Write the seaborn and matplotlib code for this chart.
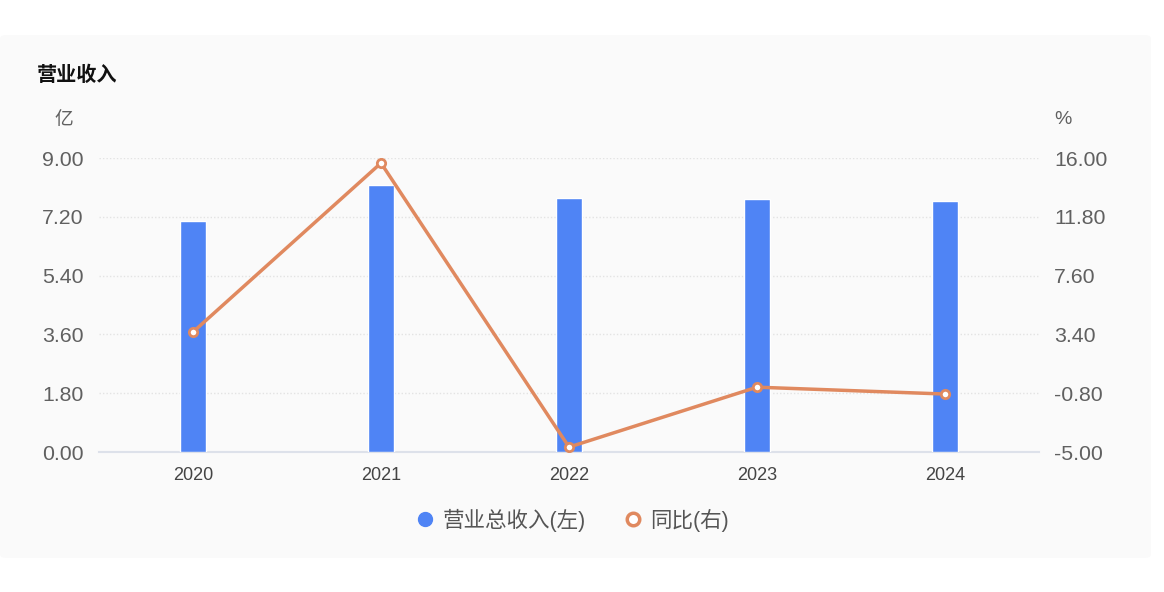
import numpy as np
import pandas as pd
import matplotlib
matplotlib.use("Agg")
import matplotlib.pyplot as plt
from matplotlib.lines import Line2D
from matplotlib.patches import FancyBboxPatch
import seaborn as sns

# data
years = ["2020", "2021", "2022", "2023", "2024"]
revenue = [7.07, 8.17, 7.77, 7.74, 7.68]      # 亿
yoy = [3.57, 15.64, -4.65, -0.37, -0.86]       # %

left_ticks = [0.00, 1.80, 3.60, 5.40, 7.20, 9.00]
right_ticks = [-5.00, -0.80, 3.40, 7.60, 11.80, 16.00]

bar_color = "#4F84F5"
line_color = "#E0895F"
text_gray = "#606060"

sns.set_theme(style="white")
plt.rcParams["font.family"] = ["Liberation Sans", "Noto Sans CJK SC", "DejaVu Sans"]

df = pd.DataFrame({"year": years, "revenue": revenue, "yoy": yoy})

fig = plt.figure(figsize=(11.64, 5.92), dpi=100)
fig.patch.set_facecolor("white")

# light card behind the chart
card = FancyBboxPatch((0.0, 1 - 558 / 592), 1151 / 1164, (558 - 35) / 592,
                      boxstyle="round,pad=0,rounding_size=0.006",
                      transform=fig.transFigure, facecolor="#fafafa",
                      edgecolor="none", zorder=-5)
fig.patches.append(card)

ax = fig.add_axes([99 / 1164, 1 - 452 / 592, 940 / 1164, 294 / 592])
ax.set_facecolor("none")

sns.barplot(data=df, x="year", y="revenue", color=bar_color, width=0.14,
            saturation=1, ax=ax, zorder=3)

ax.set_ylim(0, 9)
ax.set_xlim(-0.5, 4.5)
ax.set_yticks(left_ticks)
ax.set_yticklabels([f"{v:.2f}" for v in left_ticks])
ax.set_xlabel("")
ax.set_ylabel("")
for s in ["top", "right", "left"]:
    ax.spines[s].set_visible(False)
ax.spines["bottom"].set_color("#dde1ea")
ax.spines["bottom"].set_linewidth(1.5)
ax.tick_params(axis="y", length=0, pad=11, labelsize=15.3, labelcolor=text_gray)
ax.tick_params(axis="x", length=0, pad=11, labelsize=13, labelcolor="#444444")
for t in left_ticks[1:]:
    ax.axhline(t, color="#e3e3e3", lw=1, ls=(0, (1, 1.5)), zorder=1)

ax2 = ax.twinx()
ax2.set_facecolor("none")
sns.pointplot(data=df, x="year", y="yoy", color=line_color, errorbar=None,
              markers="o", markersize=6, linewidth=2.5,
              markerfacecolor="white", markeredgecolor=line_color,
              markeredgewidth=2, ax=ax2, zorder=4)
ax2.set_ylim(-5, 16)
ax2.set_xlim(-0.5, 4.5)
ax2.set_yticks(right_ticks)
ax2.set_yticklabels([f"{v:.2f}" for v in right_ticks])
ax2.set_ylabel("")
ax2.set_xlabel("")
for s in ax2.spines.values():
    s.set_visible(False)
ax2.tick_params(axis="y", length=0, pad=10.8, labelsize=15.3, labelcolor=text_gray)

# titles and unit labels
fig.text(37 / 1164, 1 - 75 / 592, "营业收入", fontsize=14.5, fontweight="bold",
         color="#111111", va="center", ha="left")
fig.text(73 / 1164, 1 - 120 / 592, "亿", fontsize=13.5, color=text_gray,
         va="center", ha="right")
fig.text(1054 / 1164, 1 - 120 / 592, "%", fontsize=14, color=text_gray,
         va="center", ha="left")

handles = [
    Line2D([], [], ls="none", marker="o", markersize=10, markerfacecolor=bar_color,
           markeredgecolor=bar_color),
    Line2D([], [], ls="none", marker="o", markersize=9, markerfacecolor="white",
           markeredgecolor=line_color, markeredgewidth=2.5),
]
fig.legend(handles, ["营业总收入(左)", "同比(右)"], loc="center",
           bbox_to_anchor=(572 / 1164, 1 - 520 / 592), ncol=2, frameon=False,
           fontsize=15.5, labelcolor="#555555", handletextpad=0.3,
           columnspacing=1.7, handlelength=1.0)

fig.savefig("out.png", dpi=100, facecolor=fig.get_facecolor())
